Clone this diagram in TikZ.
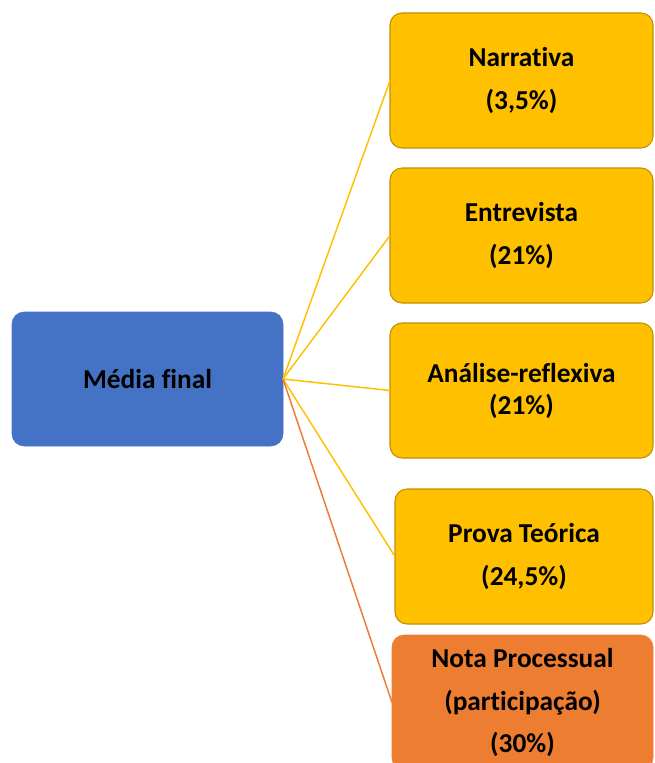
\documentclass[tikz,border=0pt]{standalone}
\usepackage{fontspec}
\setmainfont[Ligatures=NoCommon]{Carlito}
\definecolor{cblue}{HTML}{4472C4}
\definecolor{cgold}{HTML}{FFC000}
\definecolor{cgoldedge}{HTML}{BF9000}
\definecolor{corange}{HTML}{ED7D31}
\tikzset{
  basebox/.style={rectangle, rounded corners=9pt, outer sep=0pt, inner sep=0pt, align=center,
    font=\bfseries\fontsize{20.5}{32}\selectfont, text=black},
  bluebox/.style={basebox, fill=cblue, draw=cblue},
  goldbox/.style={basebox, fill=cgold, draw=cgoldedge, line width=0.8pt},
  orangebox/.style={basebox, fill=corange, draw=corange},
  goldline/.style={draw=cgold, line width=1.1pt},
  orangeline/.style={draw=corange, line width=1.1pt}
}
\begin{document}
\begin{tikzpicture}[x=0.75pt,y=-0.75pt]
\useasboundingbox (0,0) rectangle (654,763);
\clip (0,0) rectangle (654,763);
\node[bluebox, minimum width=203.25pt, minimum height=100.5pt] (media) at (147.5,379) {Média final};
\node[goldbox, minimum width=197.25pt, minimum height=101.25pt] (narr) at (521.5,80.5) {Narrativa\\(3,5\%)};
\node[goldbox, minimum width=197.25pt, minimum height=101.25pt] (entr) at (521.5,235.5) {Entrevista\\(21\%)};
\node[goldbox, minimum width=197.25pt, minimum height=101.25pt, font=\bfseries\fontsize{20.5}{24}\selectfont] (anal) at (521.5,390.5) {Análise-reflexiva\\(21\%)};
\node[goldbox, minimum width=193.5pt, minimum height=101.25pt] (prova) at (524,556.5) {Prova Teórica\\(24,5\%)};
\node[orangebox, minimum width=195.75pt, minimum height=101.25pt] (nota) at (522.5,702.5) {Nota Processual\\(participação)\\(30\%)};
\draw[goldline] (media.east) -- (narr.west);
\draw[goldline] (media.east) -- (entr.west);
\draw[goldline] (media.east) -- (anal.west);
\draw[goldline] (media.east) -- (prova.west);
\draw[orangeline] (media.east) -- (nota.west);
\end{tikzpicture}
\end{document}
